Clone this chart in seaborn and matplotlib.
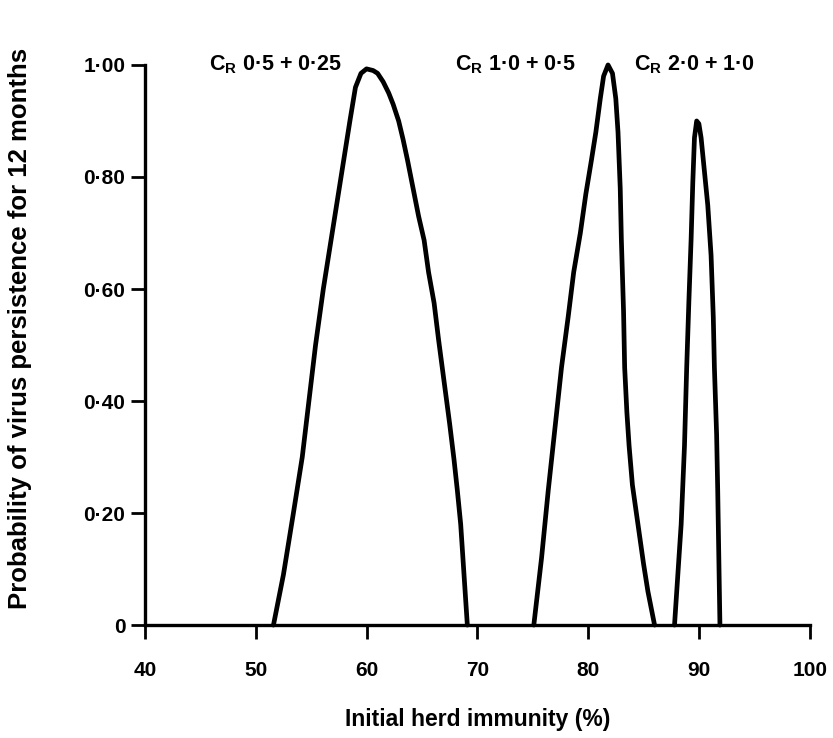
import matplotlib
matplotlib.use("Agg")
import matplotlib.pyplot as plt
import seaborn as sns
import pandas as pd

# curve values (x = initial herd immunity %, y = probability)
x_low = [51.6, 52.5, 53.4, 54.2, 54.8, 55.4, 56.1, 56.9, 57.7, 58.5, 59.0, 59.5,
         60.0, 60.6, 61.0, 61.5, 62.0, 62.4, 62.9, 63.3, 63.7, 64.2, 64.7, 65.2,
         65.6, 66.1, 66.5, 67.0, 67.5, 67.9, 68.2, 68.5, 68.8, 69.1]
y_low = [0.0, 0.09, 0.2, 0.3, 0.4, 0.5, 0.6, 0.7, 0.8, 0.9, 0.96, 0.985,
         0.993, 0.99, 0.985, 0.97, 0.95, 0.93, 0.90, 0.867, 0.83, 0.78, 0.73, 0.687,
         0.63, 0.575, 0.51, 0.435, 0.36, 0.295, 0.24, 0.18, 0.09, 0.0]

x_mid = [75.1, 75.8, 76.4, 77.0, 77.6, 78.2, 78.7, 79.3, 79.8, 80.3, 80.7, 81.1,
         81.4, 81.8, 82.2, 82.5, 82.7, 82.9, 83.0, 83.2, 83.3, 83.5, 83.7, 84.0,
         84.5, 85.0, 85.4, 86.0]
y_mid = [0.0, 0.12, 0.24, 0.35, 0.46, 0.55, 0.63, 0.70, 0.77, 0.83, 0.88, 0.94,
         0.98, 1.0, 0.985, 0.94, 0.88, 0.78, 0.69, 0.56, 0.46, 0.38, 0.32, 0.25,
         0.18, 0.11, 0.06, 0.0]

x_high = [87.8, 88.1, 88.4, 88.7, 88.9, 89.1, 89.3, 89.45, 89.6, 89.8, 90.0,
          90.2, 90.4, 90.8, 91.1, 91.3, 91.4, 91.6, 91.7, 91.8, 91.9]
y_high = [0.0, 0.09, 0.18, 0.32, 0.46, 0.58, 0.69, 0.79, 0.87, 0.90, 0.895,
          0.87, 0.83, 0.75, 0.66, 0.55, 0.46, 0.34, 0.24, 0.12, 0.0]

curve_labels = [r'C$_\mathregular{R}$ 0·5 + 0·25',
                r'C$_\mathregular{R}$ 1·0 + 0·5',
                r'C$_\mathregular{R}$ 2·0 + 1·0']
label_x = [51.8, 73.5, 89.6]
label_y = [1.0, 1.0, 1.0]

x_ticks = [40, 50, 60, 70, 80, 90, 100]
y_ticks = [0, 0.2, 0.4, 0.6, 0.8, 1.0]
y_tick_labels = ['0', '0·20', '0·40', '0·60', '0·80', '1·00']

df = pd.concat([
    pd.DataFrame({'immunity': x_low, 'prob': y_low, 'curve': 'low'}),
    pd.DataFrame({'immunity': x_mid, 'prob': y_mid, 'curve': 'mid'}),
    pd.DataFrame({'immunity': x_high, 'prob': y_high, 'curve': 'high'}),
])

sns.set_theme(style="ticks")
plt.rcParams['font.family'] = ['Liberation Sans', 'DejaVu Sans']
plt.rcParams['mathtext.fontset'] = 'custom'
plt.rcParams['mathtext.rm'] = 'Liberation Sans:bold'
plt.rcParams['text.color'] = 'black'
plt.rcParams['axes.labelcolor'] = 'black'

fig = plt.figure(figsize=(8.33, 7.38), dpi=100)
ax = fig.add_axes([0.174, 0.153, 0.798, 0.759])

sns.lineplot(data=df, x='immunity', y='prob', hue='curve', units='curve',
             estimator=None, sort=False, palette=['black'] * 3,
             linewidth=3.4, legend=False, ax=ax, clip_on=False)

for txt, lx, ly in zip(curve_labels, label_x, label_y):
    ax.text(lx, ly, txt, ha='center', va='center', fontsize=15.5,
            fontweight='bold', color='black')

ax.set_xlim(40, 100)
ax.set_ylim(0, 1.0)
ax.set_xticks(x_ticks)
ax.set_xticklabels([str(t) for t in x_ticks], fontsize=15, fontweight='bold')
ax.set_yticks(y_ticks)
ax.set_yticklabels(y_tick_labels, fontsize=15, fontweight='bold')
ax.tick_params(axis='x', direction='out', length=10, width=2, pad=16, colors='black')
ax.tick_params(axis='y', direction='out', length=10, width=2, pad=4, colors='black')

sns.despine(ax=ax)
for s in ['left', 'bottom']:
    ax.spines[s].set_linewidth(2.4)
    ax.spines[s].set_color('black')

ax.set_xlabel('Initial herd immunity (%)', fontsize=16.5, fontweight='bold')
ax.set_ylabel('Probability of virus persistence for 12 months', fontsize=18.5,
              fontweight='bold')
ax.xaxis.set_label_coords(0.5, -0.148)
ax.yaxis.set_label_coords(-0.17, 0.53)
ax.grid(False)

fig.savefig('out.png', dpi=100, facecolor='white')
plt.close(fig)
